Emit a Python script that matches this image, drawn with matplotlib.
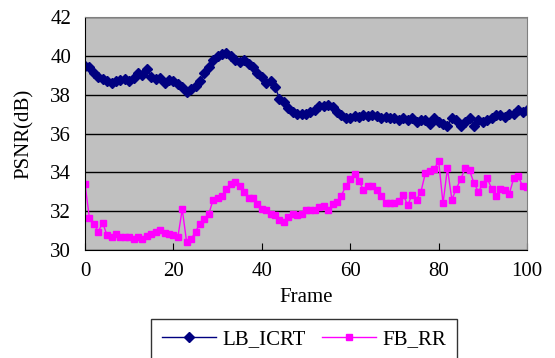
import numpy as np
import matplotlib
matplotlib.use("Agg")
import matplotlib.pyplot as plt

plt.rcParams['font.family'] = ['Liberation Serif', 'DejaVu Serif']

frames = np.arange(0, 101)

lb_icrt = [39.5, 39.4, 39.1, 38.9, 38.8, 38.7, 38.6, 38.7, 38.75, 38.8,
           38.7, 38.85, 39.1, 39.0, 39.3, 38.9, 38.8, 38.85, 38.6, 38.75,
           38.7, 38.55, 38.4, 38.15, 38.3, 38.45, 38.7, 39.1, 39.45, 39.8,
           40.0, 40.1, 40.15, 40.0, 39.8, 39.7, 39.8, 39.6, 39.4, 39.1,
           38.9, 38.6, 38.7, 38.4, 37.8, 37.6, 37.3, 37.1, 37.0, 37.0,
           37.0, 37.1, 37.2, 37.4, 37.4, 37.45, 37.35, 37.1, 36.95, 36.8,
           36.8, 36.9, 36.85, 36.95, 36.9, 36.95, 36.9, 36.8, 36.85, 36.8,
           36.8, 36.7, 36.8, 36.7, 36.8, 36.6, 36.7, 36.7, 36.5, 36.8,
           36.6, 36.5, 36.4, 36.8, 36.7, 36.4, 36.6, 36.8, 36.4, 36.7,
           36.6, 36.7, 36.8, 36.95, 36.95, 36.85, 37.0, 37.0, 37.2, 37.1,
           37.2]

fb_rr = [33.4, 31.65, 31.35, 30.95, 31.4, 30.75, 30.65, 30.8, 30.65, 30.65,
         30.65, 30.55, 30.65, 30.55, 30.7, 30.8, 30.95, 31.05, 30.85, 30.8,
         30.75, 30.65, 32.1, 30.4, 30.55, 30.95, 31.35, 31.6, 31.85, 32.6,
         32.7, 32.8, 33.15, 33.4, 33.5, 33.3, 33.0, 32.7, 32.7, 32.35,
         32.1, 32.05, 31.85, 31.8, 31.55, 31.45, 31.7, 31.85, 31.8, 31.85,
         32.05, 32.05, 32.05, 32.2, 32.25, 32.05, 32.35, 32.45, 32.8, 33.3,
         33.65, 33.9, 33.55, 33.1, 33.3, 33.3, 33.1, 32.8, 32.4, 32.4,
         32.4, 32.5, 32.85, 32.3, 32.85, 32.6, 33.0, 33.95, 34.05, 34.15,
         34.6, 32.4, 34.2, 32.6, 33.15, 33.65, 34.2, 34.1, 33.45, 33.0,
         33.4, 33.7, 33.15, 32.8, 33.15, 33.1, 32.9, 33.7, 33.8, 33.3,
         33.25]

fig = plt.figure(figsize=(5.55, 3.58), dpi=100)
ax = fig.add_axes([85 / 555, 1 - 250 / 358, (527 - 85) / 555, (250 - 17) / 358])
ax.set_facecolor('#C0C0C0')

ax.plot(frames, lb_icrt, color='#000080', marker='D', markersize=5, lw=1, label='LB_ICRT')
ax.plot(frames, fb_rr, color='#FF00FF', marker='s', markersize=5, lw=1, label='FB_RR')

ax.set_xlim(0, 100)
ax.set_ylim(30, 42)
ax.set_xticks([0, 20, 40, 60, 80, 100])
ax.set_yticks(np.arange(30, 43, 2))
ax.yaxis.grid(True, color='black', lw=1)
ax.set_axisbelow(True)
ax.tick_params(axis='x', direction='in', length=5, labelsize=15, pad=9)
ax.tick_params(axis='y', direction='out', length=0, labelsize=15, pad=10)

for side in ['top', 'right']:
    ax.spines[side].set_color('#808080')
for side in ['left', 'bottom']:
    ax.spines[side].set_color('black')

ax.set_xlabel('Frame', fontsize=15, labelpad=5)
ax.set_ylabel('PSNR(dB)', fontsize=15, labelpad=12)

leg = fig.legend(loc='upper center', bbox_to_anchor=(304 / 555, 1 - 319 / 358),
                 ncol=2, fontsize=15, frameon=True, fancybox=False,
                 edgecolor='black', handlelength=2.6, columnspacing=0.8,
                 handletextpad=0.3, borderpad=0.5, borderaxespad=0)
leg.get_frame().set_linewidth(1)

fig.savefig('out.png', dpi=100)
